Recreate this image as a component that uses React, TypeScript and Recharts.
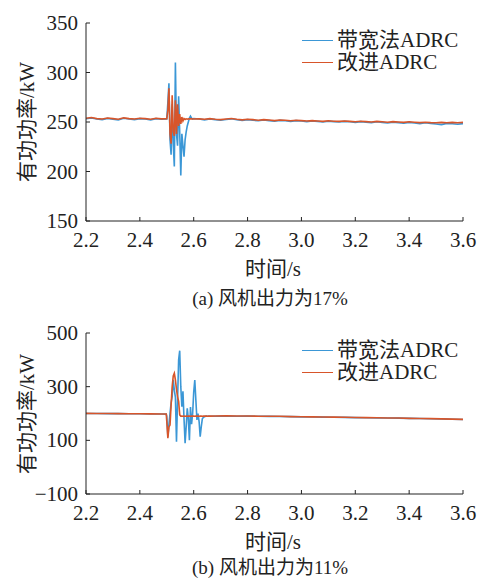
import React from "react";
import { LineChart, Line, XAxis, YAxis } from "recharts";

// ---- panel (a): wind output 17% ----
const timeA = [
  2.2, 2.22, 2.24, 2.26, 2.28, 2.3, 2.32, 2.34, 2.36, 2.38, 2.4, 2.42, 2.44, 2.46, 2.48, 2.5,
  2.504, 2.508, 2.512, 2.516, 2.52, 2.524, 2.528, 2.532, 2.536, 2.54, 2.544, 2.548, 2.552,
  2.556, 2.56, 2.564, 2.568, 2.572, 2.576, 2.58, 2.584, 2.588, 2.592, 2.596, 2.6,
  2.62, 2.64, 2.66, 2.68, 2.7, 2.72, 2.74, 2.76, 2.78, 2.8, 2.82, 2.84, 2.86, 2.88, 2.9,
  2.92, 2.94, 2.96, 2.98, 3.0, 3.02, 3.04, 3.06, 3.08, 3.1, 3.12, 3.14, 3.16, 3.18, 3.2,
  3.22, 3.24, 3.26, 3.28, 3.3, 3.32, 3.34, 3.36, 3.38, 3.4, 3.42, 3.44, 3.46, 3.48, 3.5,
  3.52, 3.54, 3.56, 3.58, 3.6,
];
const bandwidthA = [
  253.2, 254.0, 253.0, 252.4, 253.6, 252.8, 252.2, 253.8, 253.0, 252.4, 253.4, 253.0, 252.2, 253.4, 252.8, 253.0,
  270, 289, 232, 217, 268, 228, 205, 310, 238, 226, 276, 240, 196,
  238, 226, 215, 232, 240, 246, 250, 254, 256, 254, 253, 253.5,
  253.0, 252.2, 253.0, 252.4, 251.8, 252.6, 253.2, 252.2, 251.6, 252.4, 251.8, 251.2, 252.0, 251.4, 250.8,
  251.6, 251.2, 250.6, 251.4, 251.0, 250.4, 251.0, 250.6, 250.0, 250.8, 250.4, 250.0, 250.6, 250.2, 249.6,
  250.4, 249.8, 249.4, 250.2, 249.6, 249.0, 249.8, 249.4, 248.8, 249.6, 249.0, 248.4, 249.2, 248.6, 248.0,
  247.4, 248.6, 248.2, 247.8, 248.4,
];
const improvedA = [
  253.8, 254.6, 253.4, 253.0, 254.0, 253.4, 252.8, 254.2, 253.4, 253.0, 253.8, 253.4, 252.8, 253.8, 253.2, 253.4,
  262, 284, 238, 228, 277, 240, 236, 272, 238, 268, 246, 258, 248,
  255, 251, 253.5, 252.5, 253.2, 252.8, 253.2, 253.0, 253.4, 253.0, 253.2, 253.0,
  253.2, 252.8, 253.4, 252.8, 252.4, 253.0, 253.6, 252.8, 252.2, 252.8, 252.4, 251.8, 252.4, 252.0, 251.4,
  252.0, 251.8, 251.2, 251.8, 251.4, 251.0, 251.4, 251.0, 250.6, 251.2, 250.8, 250.6, 251.0, 250.6, 250.2,
  250.8, 250.4, 250.0, 250.6, 250.2, 249.8, 250.4, 250.0, 249.6, 250.2, 249.8, 249.4, 249.8, 249.4, 249.2,
  249.6, 249.2, 249.6, 249.2, 249.6,
];
const yTicksA = [150, 200, 250, 300, 350];

// ---- panel (b): wind output 11% ----
const timeB = [
  2.2, 2.24, 2.28, 2.32, 2.36, 2.4, 2.44, 2.48, 2.498,
  2.5, 2.504, 2.508, 2.512, 2.516, 2.52, 2.524, 2.528, 2.532, 2.536, 2.54, 2.544, 2.548,
  2.552, 2.556, 2.56, 2.564, 2.568, 2.572, 2.576, 2.58, 2.584, 2.588, 2.592, 2.596, 2.6,
  2.604, 2.608, 2.612, 2.616, 2.62, 2.624, 2.628, 2.632, 2.636, 2.64, 2.644, 2.648, 2.652,
  2.656, 2.66,
  2.68, 2.72, 2.76, 2.8, 2.84, 2.88, 2.92, 2.96, 3.0, 3.04, 3.08, 3.12, 3.16, 3.2, 3.24,
  3.28, 3.32, 3.36, 3.4, 3.44, 3.48, 3.52, 3.56, 3.6,
];
const bandwidthB = [
  200, 199.8, 199.6, 199.4, 199.0, 198.8, 198.4, 198.0, 197.8,
  190, 114, 160, 200, 240, 263, 325, 287, 260, 95, 250, 400, 434,
  300, 225, 283, 180, 89, 150, 219, 180, 100, 224, 160, 200, 280,
  325, 250, 176, 200, 170, 114, 150, 180, 186, 188, 190, 190.5, 190,
  190.5, 190,
  190.0, 190.6, 190.0, 190.2, 189.6, 189.2, 189.0, 188.2, 187.6, 187.2, 186.6, 186.2, 185.6, 184.8, 184.2,
  183.6, 183.2, 182.6, 181.8, 181.2, 180.6, 179.8, 178.8, 177.6,
];
const improvedB = [
  200.5, 200.2, 199.9, 199.6, 199.3, 199.0, 198.7, 198.3, 198.0,
  170, 108, 150, 157, 230, 300, 340, 350, 325, 290, 263, 245, 195,
  190, 190.5, 190, 190.3, 190, 190.4, 190, 190.2, 190.4, 190, 190.3, 190.1, 190.4,
  190, 190.3, 190.1, 190.4, 190, 190.2, 190.4, 190, 190.3, 190.1, 190.4, 190.2, 190,
  190.3, 190.4,
  190.5, 191.0, 190.5, 190.5, 190.0, 189.5, 189.5, 188.5, 188.0, 187.5, 187.0, 186.5, 186.0, 185.0, 184.5,
  184.0, 183.5, 183.0, 182.0, 181.5, 181.0, 180.0, 179.0, 178.0,
];
const yTicksB = [-100, 100, 300, 500];

const xTicks = [2.2, 2.4, 2.6, 2.8, 3.0, 3.2, 3.4, 3.6];
const seriesNames = ["带宽法ADRC", "改进ADRC"];

const BLUE = "#3b97d6";
const RED = "#d8552a";
const INK = "#222";
const FONT = '"Liberation Serif", "Times New Roman", "Noto Sans CJK SC", serif';

const W = 477;
const AXIS_H = 29;
const PAD_BOTTOM = 12;

function rows(time: number[], a: number[], b: number[]) {
  return time.map((t, i) => ({ t, bw: a[i], imp: b[i] }));
}

const fmtY = (v: number) => (v < 0 ? `\u2212${Math.abs(v)}` : `${v}`);

// inward tick marks with labels outside the axis
function YTick(props: any) {
  const { x, y, payload } = props;
  return (
    <g>
      <line x1={x} x2={x + 4} y1={y} y2={y} stroke={INK} strokeWidth={1} />
      <text x={x - 8} y={y} textAnchor="end" dominantBaseline="central" style={{ fontFamily: FONT, fontSize: 21 }} fill={INK}>
        {fmtY(payload.value)}
      </text>
    </g>
  );
}

function XTick(props: any) {
  const { x, y, payload } = props;
  return (
    <g>
      <line x1={x} x2={x} y1={y} y2={y - 4} stroke={INK} strokeWidth={1} />
      <text x={x} y={y + 19} textAnchor="middle" dominantBaseline="central" style={{ fontFamily: FONT, fontSize: 21 }} fill={INK}>
        {payload.value.toFixed(1)}
      </text>
    </g>
  );
}

function Panel(props: {
  top: number;
  height: number;
  data: { t: number; bw: number; imp: number }[];
  domain: [number, number];
  yTicks: number[];
  caption: string;
  captionOffset: number;
}) {
  const { top, height, data, domain, yTicks, caption, captionOffset } = props;
  const plotTop = top + 23;
  const plotBottom = top + height - AXIS_H - PAD_BOTTOM;
  const text: React.CSSProperties = { position: "absolute", fontFamily: FONT, color: INK, whiteSpace: "nowrap" };
  return (
    <>
      <div style={{ position: "absolute", left: 0, top }}>
        <LineChart width={W} height={height} data={data} margin={{ top: 23, right: 14, left: 0, bottom: PAD_BOTTOM }}>
          <XAxis
            dataKey="t"
            type="number"
            domain={[2.2, 3.6]}
            ticks={xTicks}
            interval={0}
            height={AXIS_H}
            tickSize={0}
            tickMargin={0}
            tick={<XTick />}
            axisLine={{ stroke: INK, strokeWidth: 1 }}
            allowDataOverflow
          />
          <YAxis
            type="number"
            domain={domain}
            ticks={yTicks}
            interval={0}
            width={86}
            tickSize={0}
            tickMargin={0}
            tick={<YTick />}
            axisLine={{ stroke: INK, strokeWidth: 1 }}
            allowDataOverflow
          />
          <Line dataKey="bw" stroke={BLUE} strokeWidth={1.6} dot={false} isAnimationActive={false} />
          <Line dataKey="imp" stroke={RED} strokeWidth={1.6} dot={false} isAnimationActive={false} />
        </LineChart>
      </div>
      {/* legend */}
      {seriesNames.map((name, i) => (
        <div key={name} style={{ ...text, left: 302, top: plotTop + 6 + i * 22, fontSize: 21, lineHeight: "22px", display: "flex", alignItems: "center" }}>
          <span style={{ display: "inline-block", width: 31, height: 0, borderTop: `1.5px solid ${i === 0 ? BLUE : RED}`, marginRight: 4 }} />
          {name}
        </div>
      ))}
      {/* y axis title */}
      <div
        style={{
          ...text,
          left: 25,
          top: (plotTop + plotBottom) / 2,
          fontSize: 21,
          transform: "translate(-50%, -50%) rotate(-90deg)",
        }}
      >
        有功功率/kW
      </div>
      {/* x axis title and caption */}
      <div style={{ ...text, left: 273, top: plotBottom + 46, fontSize: 21, transform: "translate(-50%, -50%)" }}>时间/s</div>
      <div style={{ ...text, left: 270, top: plotBottom + captionOffset, fontSize: 19, transform: "translate(-50%, -50%)" }}>{caption}</div>
    </>
  );
}

export default function App() {
  return (
    <div style={{ position: "absolute", left: 0, top: 0, width: W, height: 579, background: "#fff", overflow: "hidden" }}>
      <Panel
        top={0}
        height={262}
        data={rows(timeA, bandwidthA, improvedA)}
        domain={[150, 350]}
        yTicks={yTicksA}
        caption="(a) 风机出力为17%"
        captionOffset={75}
      />
      <Panel
        top={310}
        height={225}
        data={rows(timeB, bandwidthB, improvedB)}
        domain={[-100, 500]}
        yTicks={yTicksB}
        caption="(b) 风机出力为11%"
        captionOffset={71}
      />
    </div>
  );
}
